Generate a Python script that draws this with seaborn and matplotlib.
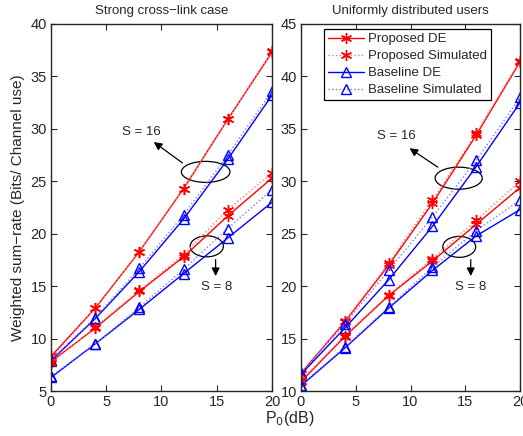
import numpy as np
import pandas as pd
import matplotlib
matplotlib.use("Agg")
import matplotlib.pyplot as plt
import seaborn as sns
from matplotlib.patches import Ellipse
from matplotlib.lines import Line2D

sns.set_style("ticks")
plt.rcParams['font.family'] = ['Liberation Sans', 'DejaVu Sans']

P0 = [0, 4, 8, 12, 16, 20]

# Left panel: strong cross-link case
L16_prop_de = [8.3, 12.9, 18.3, 24.3, 30.9, 37.3]
L16_prop_sim = [8.1, 12.9, 18.3, 24.3, 30.9, 37.4]
L16_base_de = [7.9, 11.9, 16.4, 21.4, 27.1, 33.2]
L16_base_sim = [8.0, 12.0, 16.7, 21.8, 27.5, 33.6]
L8_prop_de = [7.8, 11.0, 14.5, 17.8, 21.7, 25.3]
L8_prop_sim = [7.7, 11.1, 14.6, 18.0, 22.3, 25.8]
L8_base_de = [6.3, 9.5, 12.8, 16.2, 19.6, 23.0]
L8_base_sim = [6.4, 9.5, 13.0, 16.6, 20.5, 24.2]

# Right panel: uniformly distributed users
R16_prop_de = [11.7, 16.6, 22.0, 27.9, 34.4, 41.4]
R16_prop_sim = [11.6, 16.7, 22.2, 28.2, 34.6, 41.5]
R16_base_de = [11.6, 16.0, 20.6, 25.7, 31.4, 37.5]
R16_base_sim = [11.7, 16.4, 21.5, 26.6, 32.0, 38.0]
R8_prop_de = [10.9, 15.2, 19.1, 22.4, 25.9, 29.4]
R8_prop_sim = [11.0, 15.3, 19.2, 22.6, 26.3, 30.0]
R8_base_de = [10.5, 14.1, 17.9, 21.5, 24.8, 27.3]
R8_base_sim = [10.6, 14.2, 18.0, 21.8, 25.3, 28.2]

titles = ["Strong cross\u2212link case", "Uniformly distributed users"]
legend_labels = ["Proposed DE", "Proposed Simulated", "Baseline DE", "Baseline Simulated"]

ASTER = (6, 2, 0)

STYLES = [
    dict(color='red', marker=ASTER, linestyle='-', markersize=8, markerfacecolor='red', markeredgecolor='red'),
    dict(color='#ff7777', marker=ASTER, linestyle=':', markersize=8, markerfacecolor='red', markeredgecolor='red'),
    dict(color='blue', marker='^', linestyle='-', markersize=7, markerfacecolor='none', markeredgecolor='blue'),
    dict(color='#7777ff', marker='^', linestyle=':', markersize=7, markerfacecolor='none', markeredgecolor='blue'),
]

fig = plt.figure(figsize=(5.23, 4.36), dpi=100)
axL = fig.add_axes([0.0975, 0.103, 0.4225, 0.842])
axR = fig.add_axes([0.5755, 0.103, 0.4188, 0.842])

def draw(ax, series):
    for group in series:
        for i, ys in enumerate(group):
            st = STYLES[i]
            sns.lineplot(x=P0, y=ys, ax=ax, markeredgewidth=1.0, linewidth=1.0, **st)

draw(axL, [[L16_prop_de, L16_prop_sim, L16_base_de, L16_base_sim],
           [L8_prop_de, L8_prop_sim, L8_base_de, L8_base_sim]])
draw(axR, [[R16_prop_de, R16_prop_sim, R16_base_de, R16_base_sim],
           [R8_prop_de, R8_prop_sim, R8_base_de, R8_base_sim]])

for ax, t, ylim, yt in [(axL, titles[0], (5, 40), range(5, 41, 5)),
                        (axR, titles[1], (10, 45), range(10, 46, 5))]:
    ax.set_xlim(0, 20)
    ax.set_ylim(*ylim)
    ax.set_xticks([0, 5, 10, 15, 20])
    ax.set_yticks(list(yt))
    ax.tick_params(direction='in', top=True, right=True, labelsize=10.5, length=4, pad=3)
    for s in ax.spines.values():
        s.set_linewidth(1.0)
        s.set_visible(True)
    ax.set_title(t, fontsize=9.5, pad=7)
    ax.set_xlabel("")

axL.set_ylabel("Weighted sum\u2212rate (Bits/ Channel use)", fontsize=11, labelpad=4)
fig.text(0.555, 0.018, "P$_0$(dB)", ha='center', va='bottom', fontsize=11.5)

def annot(ax, e16, a16, t16, e8, a8, t8):
    for (cx, cy, w, h) in [e16, e8]:
        ax.add_patch(Ellipse((cx, cy), w, h, fill=False, edgecolor='black', linewidth=0.9))
    ax.annotate("", xy=a16[1], xytext=a16[0],
                arrowprops=dict(arrowstyle='-|>', color='black', lw=0.9, mutation_scale=12))
    ax.text(t16[0], t16[1], "S = 16", ha='center', va='center', fontsize=9.5)
    ax.annotate("", xy=a8[1], xytext=a8[0],
                arrowprops=dict(arrowstyle='-|>', color='black', lw=0.9, mutation_scale=12))
    ax.text(t8[0], t8[1], "S = 8", ha='center', va='center', fontsize=9.5)

annot(axL, (14.0, 25.9, 4.4, 2.0), ((12.1, 26.6), (9.1, 28.9)), (8.2, 29.7),
      (14.1, 18.8, 3.0, 2.0), ((14.9, 17.8), (14.9, 15.7)), (15.0, 14.9))
annot(axR, (14.4, 30.3, 4.3, 2.1), ((12.7, 31.2), (9.7, 33.3)), (8.75, 34.3),
      (14.45, 23.75, 3.0, 2.0), ((15.5, 22.8), (15.5, 20.7)), (15.5, 19.9))

hs = [Line2D([], [], linewidth=1.0, markeredgewidth=1.0, **st) for st in STYLES]
leg = axR.legend(hs, legend_labels, loc='upper left', bbox_to_anchor=(0.095, 0.993),
                 fontsize=9.5, frameon=True, fancybox=False, edgecolor='black',
                 framealpha=1, borderpad=0.3, labelspacing=0.36, handlelength=2.7,
                 handletextpad=0.3, borderaxespad=0.2)
leg.get_frame().set_linewidth(0.9)

fig.savefig("out.png", dpi=100)
